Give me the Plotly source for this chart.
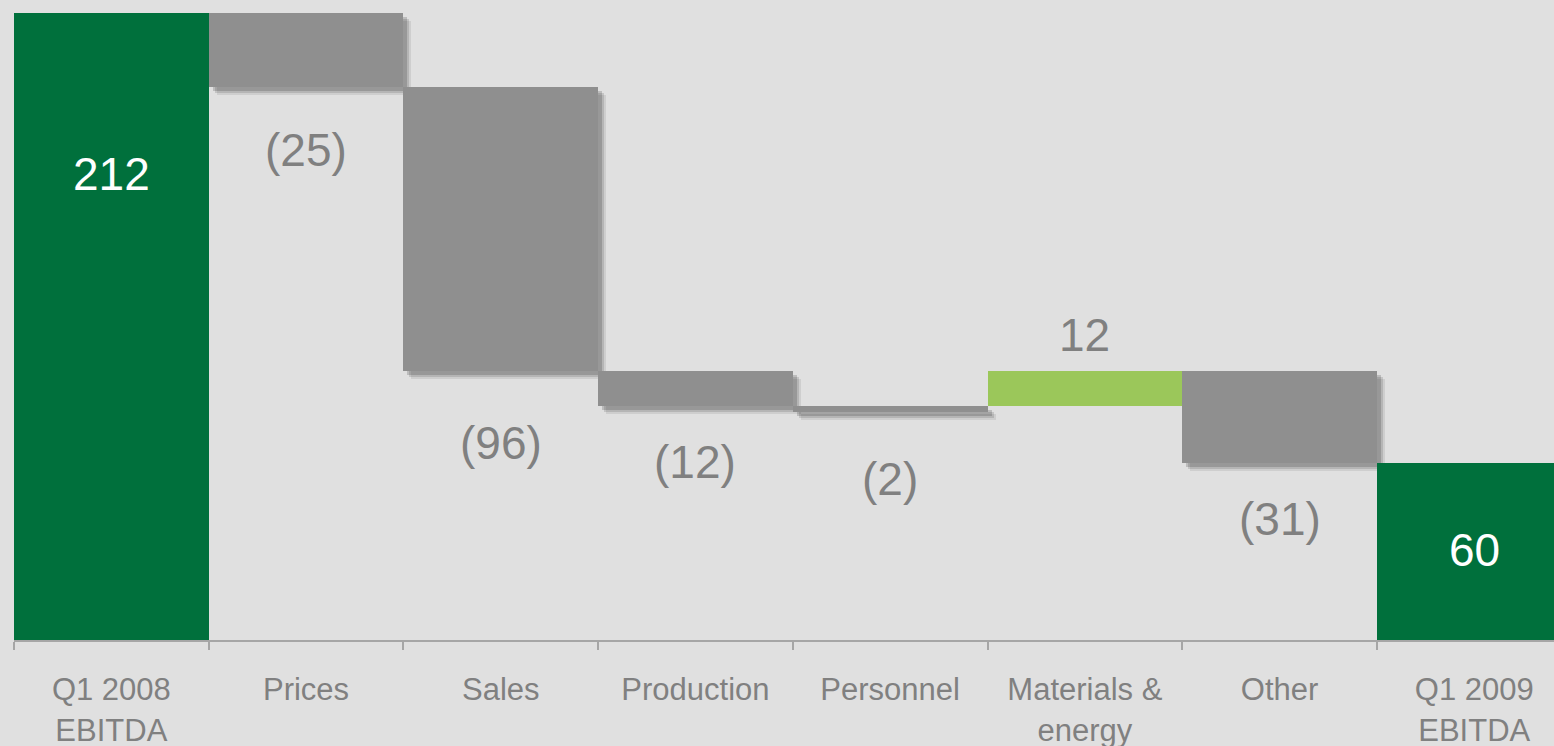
import plotly.graph_objects as go

categories = ["Q1 2008<br>EBITDA", "Prices", "Sales", "Production", "Personnel",
              "Materials &<br>energy", "Other", "Q1 2009<br>EBITDA"]
value_labels = ["212", "(25)", "(96)", "(12)", "(2)", "12", "(31)", "60"]
bar_from = [0, 212, 187, 91, 79, 79, 91, 0]
bar_to = [212, 187, 91, 79, 77, 91, 60, 60]
kinds = ["total", "neg", "neg", "neg", "neg", "pos", "neg", "total"]

BG = "#e0e0e0"
GREEN = "#00703c"
GRAY = "#8f8f8f"
LIGHT = "#9bc75a"
TXT = "#808080"
FONT = "Arial, Liberation Sans, sans-serif"

colors = {"total": GREEN, "neg": GRAY, "pos": LIGHT}
base = [min(a, b) for a, b in zip(bar_from, bar_to)]
height = [abs(a - b) for a, b in zip(bar_from, bar_to)]

px_per_unit = 640 / 216.4
cat_px = 194.7

fig = go.Figure()

# soft drop shadows for gray bars
for dpx, alpha in [(8, 0.08), (6, 0.12), (4, 0.16)]:
    sx, sb, sh = [], [], []
    for i, k in enumerate(kinds):
        if k == "neg":
            sx.append(categories[i])
            sb.append(base[i] - dpx / px_per_unit)
            sh.append(height[i])
    fig.add_trace(go.Bar(
        x=sx, y=sh, base=sb, width=1.0, offset=-0.5 + dpx / cat_px,
        marker=dict(color=f"rgba(0,0,0,{alpha})", line=dict(width=0)),
        hoverinfo="skip", showlegend=False,
    ))

fig.add_trace(go.Bar(
    x=categories, y=height, base=base, width=1.0,
    marker=dict(color=[colors[k] for k in kinds], line=dict(width=0)),
    showlegend=False,
))

# label shifts (px) relative to bar edge
shifts = [-161, -63, -72, -56, -67, 36, -56, -87]
for i, k in enumerate(kinds):
    if k in ("total", "pos"):
        anchor = max(bar_from[i], bar_to[i])
    else:
        anchor = min(bar_from[i], bar_to[i])
    fig.add_annotation(
        x=categories[i], y=anchor, text=value_labels[i], showarrow=False,
        yanchor="middle", yshift=shifts[i],
        font=dict(family=FONT, size=46, color="white" if k == "total" else TXT),
    )

fig.update_layout(
    width=1554, height=746,
    margin=dict(l=14, r=0, t=0, b=106),
    paper_bgcolor=BG, plot_bgcolor=BG,
    barmode="overlay", bargap=0,
    font=dict(family=FONT, color=TXT),
)
fig.update_xaxes(
    type="category", categoryorder="array", categoryarray=categories,
    automargin=False,
    range=[-0.5, -0.5 + 1540 / cat_px],
    showgrid=False, zeroline=False,
    showline=True, linecolor="#a6a6a6", linewidth=2,
    ticks="outside", tickson="boundaries", ticklen=8, tickcolor="#a6a6a6", tickwidth=2,
    tickfont=dict(family=FONT, size=31, color=TXT),
    ticklabelstandoff=21,
)
fig.update_yaxes(range=[0, 216.4], visible=False, showgrid=False, zeroline=False,
                 automargin=False)

fig.write_html("out.html")
